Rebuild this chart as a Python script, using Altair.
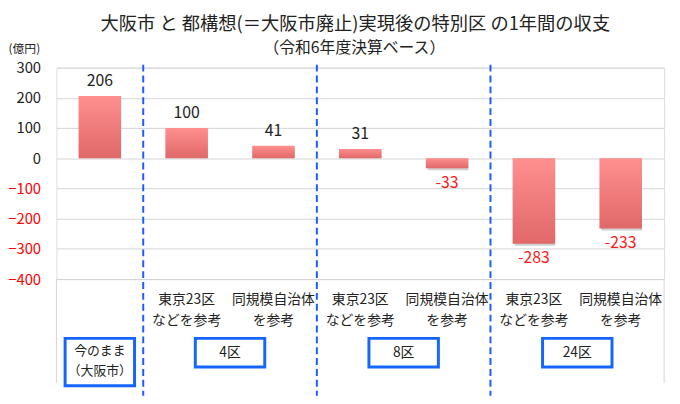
import altair as alt
import pandas as pd

# ---- data ----
values = [206, 100, 41, 31, -33, -283, -233]
value_labels = ["206", "100", "41", "31", "-33", "-283", "-233"]
row1 = ["", "東京23区", "同規模自治体", "東京23区", "同規模自治体", "東京23区", "同規模自治体"]
row2 = ["", "などを参考", "を参考", "などを参考", "を参考", "などを参考", "を参考"]
group_labels = ["今のまま\n（大阪市）", "4区", "8区", "24区"]
group_pos = [0, 1.5, 3.5, 5.5]
divider_pos = [0.5, 2.5, 4.5]
y_ticks = [300, 200, 100, 0, -100, -200, -300, -400]

title_text = "大阪市 と 都構想(＝大阪市廃止)実現後の特別区 の1年間の収支"
subtitle_text = "（令和6年度決算ベース）"
unit_text = "(億円)"

FONT = "Noto Sans CJK JP"
W, H = 615, 214

df = pd.DataFrame({
    "idx": list(range(len(values))),
    "value": values,
    "label": value_labels,
    "row1": row1,
    "row2": row2,
})
groups = pd.DataFrame({"pos": group_pos, "label": group_labels,
                       "first": [True, False, False, False]})
dividers = pd.DataFrame({"pos": divider_pos})
one = pd.DataFrame({"k": [0]})

xscale = alt.Scale(domain=[-0.5, 6.5], nice=False, zero=False)
yscale = alt.Scale(domain=[-400, 300], nice=False, zero=False)
yaxis = alt.Axis(
    values=y_ticks, title=None, ticks=False, domain=False,
    grid=True, gridColor="#d4d4d4", gridWidth=1,
    labelFontSize=15, labelPadding=16, labelFont=FONT,
    labelOverlap=False, labelBound=False, labelFlush=False,
    labelColor=alt.condition("datum.value < 0", alt.value("#ff0000"), alt.value("#222222")),
)
Y = alt.Y("value:Q", scale=yscale, axis=yaxis)

base = alt.Chart(df).transform_calculate(
    x0="datum.idx - 0.245", x1="datum.idx + 0.245"
)

grad = alt.Gradient(
    gradient="linear",
    stops=[alt.GradientStop(color="#ff8f8f", offset=0),
           alt.GradientStop(color="#e06868", offset=1)],
    x1=0, x2=0, y1=0, y2=1,
)

shadow = base.mark_rect(color="#777777", opacity=0.35, xOffset=2, yOffset=2).encode(
    x=alt.X("x0:Q", scale=xscale, axis=None), x2="x1:Q", y=Y, y2=alt.datum(0)
)
bars = base.mark_rect(fill=grad).encode(
    x=alt.X("x0:Q", scale=xscale, axis=None), x2="x1:Q", y=Y, y2=alt.datum(0)
)

pos_lbl = base.transform_filter("datum.value >= 0").mark_text(
    dy=-15, fontSize=16, font=FONT, color="#222222", baseline="middle"
).encode(x=alt.X("idx:Q", scale=xscale, axis=None), y=Y, text="label:N")
neg_lbl = base.transform_filter("datum.value < 0").mark_text(
    dy=15, fontSize=16, font=FONT, color="#ff1a1a", baseline="middle"
).encode(x=alt.X("idx:Q", scale=xscale, axis=None), y=Y, text="label:N")

# table frame (left/right) under the plot
frame_l = alt.Chart(one).mark_rule(color="#d4d4d4", strokeWidth=1).encode(
    x=alt.value(0), y=alt.value(H), y2=alt.value(H + 105))
frame_r = alt.Chart(one).mark_rule(color="#d4d4d4", strokeWidth=1).encode(
    x=alt.value(W), y=alt.value(H), y2=alt.value(H + 105))

divs = alt.Chart(dividers).mark_rule(
    color="#1a5cff", strokeWidth=2, strokeDash=[7, 4]
).encode(x=alt.X("pos:Q", scale=xscale, axis=None), y=alt.value(-3), y2=alt.value(332))

r1 = base.mark_text(fontSize=14, font=FONT, color="#222222", baseline="middle").encode(
    x=alt.X("idx:Q", scale=xscale, axis=None), y=alt.value(235), text="row1:N")
r2 = base.mark_text(fontSize=14, font=FONT, color="#222222", baseline="middle").encode(
    x=alt.X("idx:Q", scale=xscale, axis=None), y=alt.value(256), text="row2:N")

gbase = alt.Chart(groups).transform_calculate(
    g0="datum.pos - 0.4", g1="datum.pos + 0.4")
GX = alt.X("g0:Q", scale=xscale, axis=None)
box_first = gbase.transform_filter("datum.first").mark_rect(
    fill="white", stroke="#1466ff", strokeWidth=3
).encode(x=GX, x2="g1:Q", y=alt.value(274), y2=alt.value(322))
box_rest = gbase.transform_filter("!datum.first").mark_rect(
    fill="white", stroke="#1466ff", strokeWidth=3
).encode(x=GX, x2="g1:Q", y=alt.value(274), y2=alt.value(303))
gtxt_first = gbase.transform_filter("datum.first").mark_text(
    fontSize=13, font=FONT, color="#222222", baseline="middle", lineBreak="\n", lineHeight=21
).encode(x=alt.X("pos:Q", scale=xscale, axis=None), y=alt.value(286.5), text="label:N")
gtxt_rest = gbase.transform_filter("!datum.first").mark_text(
    fontSize=14, font=FONT, color="#222222", baseline="middle"
).encode(x=alt.X("pos:Q", scale=xscale, axis=None), y=alt.value(288.5), text="label:N")

title = alt.Chart(one).mark_text(
    fontSize=18.5, font=FONT, color="#222222", baseline="middle", text=title_text
).encode(x=alt.value(302.5), y=alt.value(-44))
subtitle = alt.Chart(one).mark_text(
    fontSize=16, font=FONT, color="#222222", baseline="middle", text=subtitle_text
).encode(x=alt.value(301.5), y=alt.value(-20))
unit = alt.Chart(one).mark_text(
    fontSize=12, font=FONT, color="#222222", baseline="middle", align="left", text=unit_text
).encode(x=alt.value(-48.5), y=alt.value(-19))

chart = alt.layer(
    frame_l, frame_r, shadow, bars, pos_lbl, neg_lbl,
    divs, r1, r2, box_first, box_rest, gtxt_first, gtxt_rest,
    title, subtitle, unit,
).properties(
    width=W, height=H,
    autosize=alt.AutoSizeParams(type="none"),
    padding={"left": 49, "top": 58, "right": 8, "bottom": 116},
    background="white",
).configure_view(stroke=None).configure(font=FONT)

chart.save("out.html", embed_options={"renderer": "svg", "actions": False})
